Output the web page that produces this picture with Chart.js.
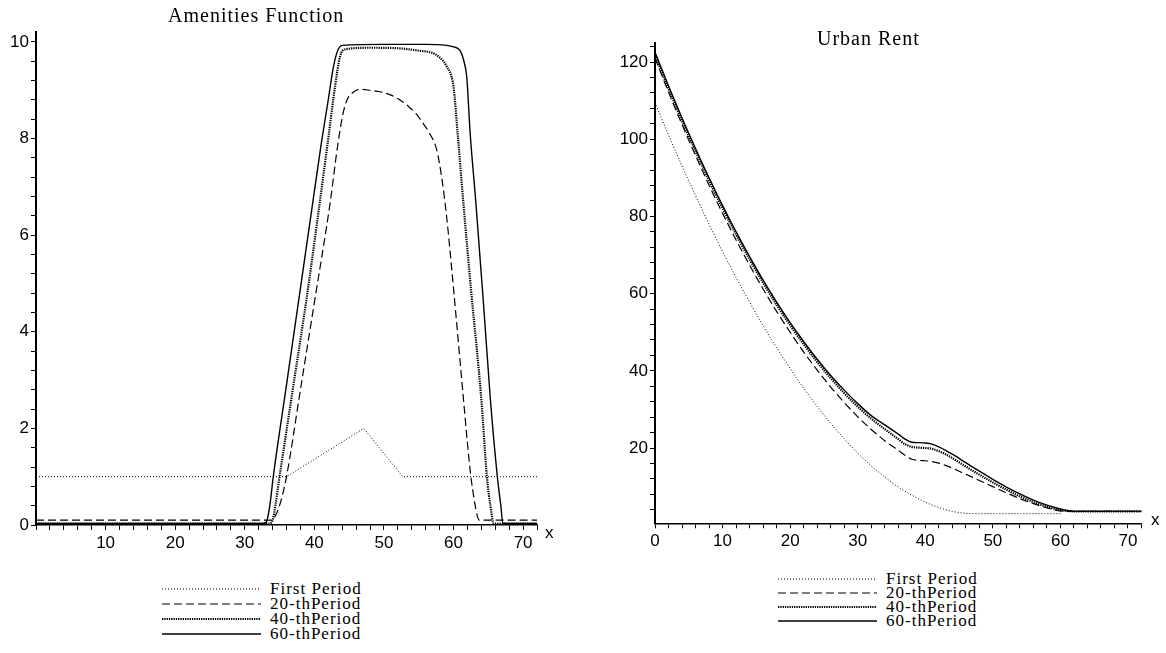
<!DOCTYPE html>
<html><head><meta charset="utf-8">
<script src="https://cdn.jsdelivr.net/npm/chart.js@4.4.1/dist/chart.umd.min.js"></script>
<style>
html,body{margin:0;padding:0;background:#fff;}
body{width:1166px;height:653px;overflow:hidden;position:relative;}
canvas{position:absolute;}
.title{position:absolute;font-family:"Liberation Serif",serif;font-size:20px;letter-spacing:1px;color:#000;white-space:nowrap;line-height:20px;}
.axname{position:absolute;font-family:"Liberation Sans",sans-serif;font-size:17px;color:#000;line-height:17px;}
.lg{position:absolute;font-family:"Liberation Serif",serif;font-size:17px;letter-spacing:1px;color:#000;white-space:nowrap;line-height:16px;height:16px;display:flex;align-items:center;}
.lg svg{display:block;margin-right:9px;}
</style></head><body>
<canvas id="c1" width="575" height="565" style="left:0;top:0"></canvas>
<canvas id="c2" width="586" height="565" style="left:580px;top:0"></canvas>
<div class="title" id="t1" style="left:168px;top:5px">Amenities Function</div>
<div class="title" id="t2" style="left:817px;top:28px">Urban Rent</div>
<div class="axname" style="left:545px;top:524px">x</div>
<div class="axname" style="left:1151px;top:511px">x</div>
<div id="legendL"></div>
<div id="legendR"></div>
<script>
// ---------- Amenities Function data ----------
const amenFirstX = [0, 36, 47.1, 52.7, 72];
const amenFirstY = [1, 1, 2, 1, 1];
const amen20X = [0, 33.8, 34.5, 35.2, 36, 38, 40, 42.3, 43.3, 44.1, 44.7, 45.5, 46.6, 48, 49.4, 51, 52.3, 53.5, 54.7, 55.7, 56.6, 57.6, 58.3, 59, 60, 61, 61.5, 62, 62.5, 63, 63.4, 63.7, 72];
const amen20Y = [0.1, 0.1, 0.22, 0.5, 1.0, 2.8, 4.6, 6.7, 7.8, 8.5, 8.8, 8.95, 9.02, 9.0, 8.97, 8.9, 8.8, 8.67, 8.5, 8.3, 8.1, 7.76, 7.2, 6.4, 4.9, 3.3, 2.5, 1.7, 1.0, 0.5, 0.2, 0.1, 0.1];
const amen40X = [0, 33.5, 34, 34.4, 35, 37, 39, 40.8, 42, 43, 43.7, 44.5, 48, 52, 55, 57, 58, 59, 60, 60.6, 61.4, 62.5, 64, 64.8, 65.3, 65.8, 72];
const amen40Y = [0.03, 0.03, 0.1, 0.4, 1.0, 2.9, 4.8, 6.7, 8.0, 9.1, 9.7, 9.85, 9.88, 9.87, 9.82, 9.77, 9.68, 9.5, 9.07, 8.1, 6.7, 4.9, 2.6, 1.0, 0.4, 0.03, 0.03];
const amen60X = [0, 32.8, 33.2, 33.6, 34.1, 36, 38, 39.8, 41, 42, 42.7, 43.3, 44, 50, 56, 59, 60, 60.9, 61.5, 61.9, 62.4, 63.2, 64.3, 65.3, 66.3, 66.8, 67.1, 72];
const amen60Y = [0.03, 0.03, 0.1, 0.4, 1.0, 2.9, 4.9, 6.7, 7.9, 8.8, 9.45, 9.8, 9.93, 9.95, 9.95, 9.93, 9.9, 9.83, 9.6, 9.28, 8.1, 6.7, 4.6, 2.6, 1.0, 0.4, 0.03, 0.03];

// ---------- Urban Rent data ----------
const rentFirstX = [0, 2, 4, 6, 8, 10, 12, 14, 16, 18, 20, 22, 24, 26, 28, 30, 32, 34, 36, 38, 40, 42, 44, 46, 48, 60];
const rentFirstY = [109.5, 101.1, 93.1, 85.4, 78.0, 70.9, 64.2, 57.8, 51.7, 46.0, 40.6, 35.5, 30.8, 26.4, 22.4, 18.7, 15.4, 12.5, 9.9, 7.8, 6.0, 4.6, 3.6, 3.1, 3.0, 3.0];
const rentX = [0, 2, 4, 6, 8, 10, 12, 14, 16, 18, 20, 22, 24, 26, 28, 30, 32, 34, 36, 37, 38, 39, 40, 41, 42, 43, 44, 46, 48, 50, 52, 54, 56, 58, 60, 61, 62, 64, 72];
const rent20Y = [121.0, 112.2, 103.8, 95.8, 88.1, 80.8, 73.9, 67.4, 61.2, 55.4, 50.0, 44.9, 40.2, 35.8, 31.8, 28.1, 24.8, 21.9, 19.4, 18.1, 17.1, 16.8, 16.7, 16.5, 16.1, 15.5, 14.8, 13.2, 11.6, 10.0, 8.4, 6.9, 5.6, 4.5, 3.7, 3.6, 3.6, 3.6, 3.6];
const rent40Y = [121.8, 113.1, 104.8, 96.9, 89.3, 82.1, 75.3, 68.9, 62.8, 57.1, 51.8, 46.9, 42.3, 38.1, 34.2, 30.7, 27.6, 24.9, 22.3, 21.0, 20.3, 20.1, 20.0, 19.8, 19.2, 18.4, 17.4, 15.2, 13.1, 11.1, 9.2, 7.5, 6.0, 4.8, 3.9, 3.7, 3.6, 3.6, 3.6];
const rent60Y = [122.5, 113.8, 105.5, 97.6, 90.0, 82.8, 76.0, 69.6, 63.5, 57.8, 52.5, 47.6, 43.0, 38.8, 35.0, 31.5, 28.4, 26.0, 23.6, 22.3, 21.5, 21.4, 21.3, 21.0, 20.3, 19.4, 18.4, 16.2, 14.0, 11.9, 9.9, 8.1, 6.5, 5.2, 4.2, 3.8, 3.6, 3.6, 3.6];

// ---------- labels ----------
const seriesNames = ["First Period", "20-thPeriod", "40-thPeriod", "60-thPeriod"];
const titles = ["Amenities Function", "Urban Rent"];

// ---------- styles ----------
const lineStyles = [
  {w: 1, dash: [1, 2]},
  {w: 1.2, dash: [8, 4]},
  {w: 2.2, dash: [1.3, 1]},
  {w: 1.4, dash: []}
];

function pts(xs, ys) { return xs.map((x, i) => ({x: x, y: ys[i]})); }
function ds(name, data, k, straight) {
  const d = {label: name, data: data, borderColor: '#000', backgroundColor: '#000',
    borderWidth: lineStyles[k].w, borderDash: lineStyles[k].dash, pointRadius: 0,
    fill: false, parsing: false};
  if (straight) d.tension = 0; else d.cubicInterpolationMode = 'monotone';
  return d;
}
function tickList(min, max, step) {
  const out = [];
  for (let v = Math.ceil(min / step - 1e-9) * step; v <= max + 1e-9; v += step) out.push({value: Math.round(v * 1000) / 1000});
  return out;
}
function axis(o) {
  return {
    type: 'linear', position: o.pos, min: o.min, max: o.max, bounds: 'data',
    afterBuildTicks: (s) => { s.ticks = tickList(o.min, o.max, o.step); },
    afterFit: (s) => { if (o.pos === 'left') s.width = o.size; else s.height = o.size; },
    grid: {display: true, drawOnChartArea: false, drawTicks: true, tickLength: 5, color: '#000', tickColor: '#000', tickWidth: 1},
    border: {display: true, color: '#000', width: o.bw},
    ticks: {
      autoSkip: false, maxRotation: 0, padding: o.pad, color: '#000',
      font: {family: 'Liberation Sans', size: 17},
      callback: (v) => {
        const r = v / o.every;
        if (Math.abs(r - Math.round(r)) < 1e-6 && (o.zero || Math.round(v) !== 0)) return String(Math.round(v));
        return '';
      }
    }
  };
}
Chart.defaults.animation = false;

new Chart(document.getElementById('c1'), {
  type: 'line',
  data: {datasets: [
    ds(seriesNames[0], pts(amenFirstX, amenFirstY), 0, true),
    ds(seriesNames[1], pts(amen20X, amen20Y), 1),
    ds(seriesNames[2], pts(amen40X, amen40Y), 2),
    ds(seriesNames[3], pts(amen60X, amen60Y), 3)
  ]},
  options: {
    responsive: false, devicePixelRatio: 1, animation: false,
    layout: {padding: {left: 0, top: 32.3, right: 38, bottom: 10}},
    plugins: {legend: {display: false}, tooltip: {enabled: false}, title: {display: false}},
    scales: {
      x: axis({pos: 'bottom', min: 0, max: 72, step: 2, every: 10, zero: false, size: 30, bw: 1.5, pad: 3}),
      y: axis({pos: 'left', min: 0, max: 10.2, step: 0.4, every: 2, zero: true, size: 36, bw: 2, pad: 2})
    }
  }
});

new Chart(document.getElementById('c2'), {
  type: 'line',
  data: {datasets: [
    ds(seriesNames[0], pts(rentFirstX, rentFirstY), 0),
    ds(seriesNames[1], pts(rentX, rent20Y), 1),
    ds(seriesNames[2], pts(rentX, rent40Y), 2),
    ds(seriesNames[3], pts(rentX, rent60Y), 3)
  ]},
  options: {
    responsive: false, devicePixelRatio: 1, animation: false,
    layout: {padding: {left: 0, top: 42.7, right: 24.5, bottom: 11.7}},
    plugins: {legend: {display: false}, tooltip: {enabled: false}, title: {display: false}},
    scales: {
      x: axis({pos: 'bottom', min: 0, max: 72, step: 2, every: 10, zero: true, size: 30, bw: 1.5, pad: 3}),
      y: axis({pos: 'left', min: 0.5, max: 125, step: 4, every: 20, zero: false, size: 75, bw: 2, pad: 2})
    }
  }
});

// ---------- HTML legends ----------
function buildLegend(id, left, tops) {
  const host = document.getElementById(id);
  seriesNames.forEach((name, k) => {
    const row = document.createElement('div');
    row.className = 'lg';
    row.style.left = left + 'px';
    row.style.top = (tops[k] - 8) + 'px';
    const st = lineStyles[k];
    row.innerHTML = '<svg width="99" height="6"><line x1="0" y1="3" x2="99" y2="3" stroke="#000" stroke-width="' + st.w + '"' +
      (st.dash.length ? ' stroke-dasharray="' + st.dash.join(' ') + '"' : '') + '/></svg><span>' + name + '</span>';
    host.appendChild(row);
  });
}
buildLegend('legendL', 162, [589, 604, 619, 634]);
buildLegend('legendR', 778, [579, 593, 607, 621]);
</script>
</body></html>
